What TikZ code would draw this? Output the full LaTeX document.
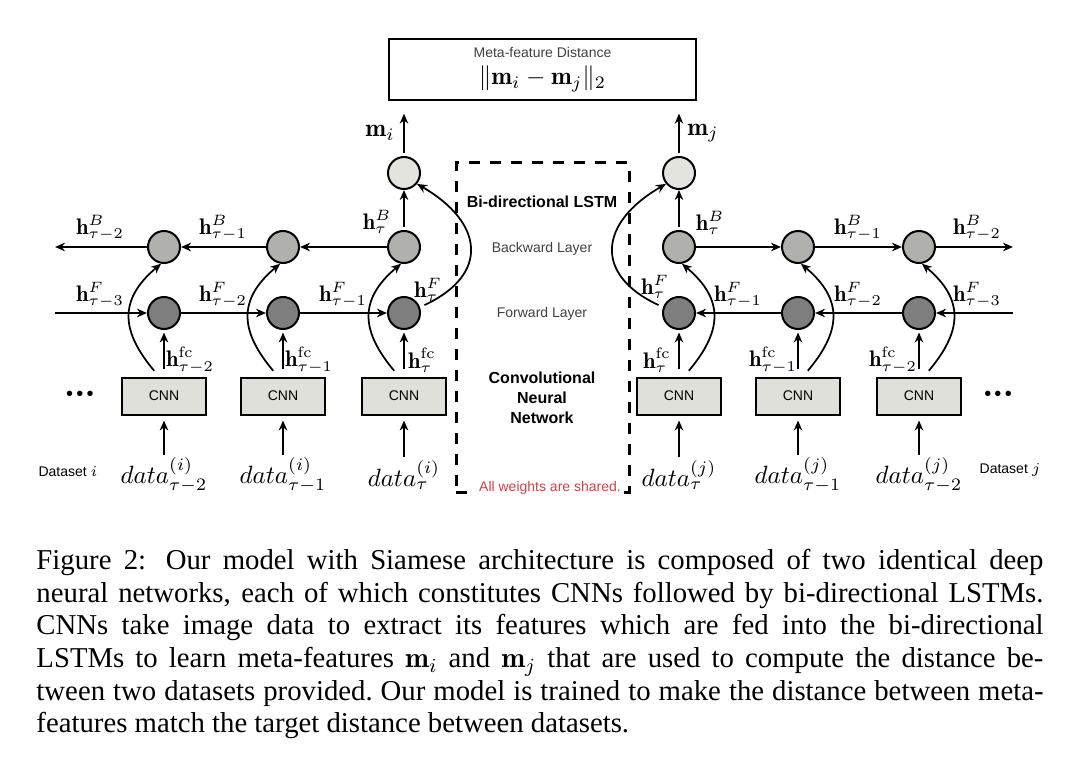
\documentclass[tikz,border=0pt]{standalone}
\usepackage{fontspec}
\setsansfont{Liberation Sans}
\newfontfamily\capfont{Liberation Serif}
\usetikzlibrary{arrows.meta}
\definecolor{outgray}{HTML}{E4E4DF}
\definecolor{bwdgray}{HTML}{B0B0AC}
\definecolor{fwdgray}{HTML}{7E7E7E}
\definecolor{cnngray}{HTML}{E0E0DA}
\definecolor{sharedred}{HTML}{D0434A}
\tikzset{
    outvertex/.style={circle,draw,line width=0.8pt,fill=outgray,minimum size=12.8pt,inner sep=0pt},
    bwvertex/.style={outvertex,fill=bwdgray},
    fwvertex/.style={outvertex,fill=fwdgray},
    cnnbox/.style={rectangle,draw,line width=0.8pt,fill=cnngray,minimum width=33.6pt,minimum height=14.8pt,inner sep=0pt,font=\sffamily\fontsize{5.6}{6}\selectfont},
    distbox/.style={rectangle,draw,line width=0.9pt,minimum width=122.8pt,minimum height=24.4pt,inner sep=0pt,align=center},
    sharedbox/.style={rectangle,draw,line width=1.2pt,dash pattern=on 4.4pt off 4pt,minimum width=69.2pt,minimum height=131.6pt,inner sep=0pt},
    hlabel/.style={inner sep=0pt,font=\fontsize{9}{10}\selectfont},
    datalabel/.style={inner sep=0pt,font=\fontsize{10}{11}\selectfont},
    smalltext/.style={inner sep=0pt,font=\sffamily\fontsize{5.6}{6}\selectfont},
    boldtext/.style={inner sep=0pt,align=center,font=\sffamily\bfseries\fontsize{6.4}{8}\selectfont},
    dotrow/.style={inner sep=0pt,font=\sffamily\fontsize{8}{8}\selectfont},
    pre/.style={-{Stealth[length=4pt,width=3.4pt]},line width=0.7pt},
    feed/.style={pre,shorten <=3pt,shorten >=1pt},
    input/.style={pre,shorten <=1pt,shorten >=2pt}
}

\begin{document}
\begin{tikzpicture}[x=0.4pt,y=0.4pt]
    \useasboundingbox (0,0) rectangle (1080,-779);

    % distance between the two meta-features
    \node[distbox] (dist) at (542.5,-69.5) {{\sffamily\fontsize{5.6}{6}\selectfont\color{darkgray}Meta-feature Distance}\\[-1pt]
        {\fontsize{10}{11}\selectfont$\|\mathbf{m}_i - \mathbf{m}_j\|_2$}};

    % shared part in the middle
    \node[sharedbox] (shared) at (542.5,-327.5) {};
    \node[boldtext] (lstm title) at (542,-202) {Bi-directional LSTM};
    \node[smalltext,text=darkgray] (bw layer) at (542,-249) {Backward Layer};
    \node[smalltext,text=darkgray] (fw layer) at (542,-314) {Forward Layer};
    \node[boldtext] (cnn title) at (542,-398) {Convolutional\\Neural\\Network};
    \node[smalltext,text=sharedred,fill=white,inner sep=1pt] (shared text) at (550,-488) {All weights are shared.};

    % left network (dataset i)
    \node[outvertex] (lhs out)  at (404,-173) {};
    \node[bwvertex]  (lhs bw 0) at (404,-247) {};
    \node[bwvertex]  (lhs bw 1) at (283,-247) {};
    \node[bwvertex]  (lhs bw 2) at (164,-247) {};
    \node[fwvertex]  (lhs fw 0) at (404,-313) {};
    \node[fwvertex]  (lhs fw 1) at (283,-313) {};
    \node[fwvertex]  (lhs fw 2) at (164,-313) {};
    \node[cnnbox]    (lhs cnn 0) at (404,-396) {CNN};
    \node[cnnbox]    (lhs cnn 1) at (283,-396) {CNN};
    \node[cnnbox]    (lhs cnn 2) at (164,-396) {CNN};
    \node[datalabel] (lhs data 0) at (404,-475) {$data^{(i)}_{\tau}$};
    \node[datalabel] (lhs data 1) at (283,-475) {$data^{(i)}_{\tau-1}$};
    \node[datalabel] (lhs data 2) at (164,-475) {$data^{(i)}_{\tau-2}$};
    \node[smalltext] (lhs set)  at (68,-472) {Dataset $i$};
    \node[dotrow]    (lhs dots) at (80,-396) {•\hspace{1.3pt}•\hspace{1.3pt}•};
    \coordinate (lhs bw end)   at (55,-247);
    \coordinate (lhs fw start) at (55,-313);

    \draw[pre] (lhs bw 0) -- (lhs bw 1);
    \draw[pre] (lhs bw 1) -- (lhs bw 2);
    \draw[pre] (lhs bw 2) -- (lhs bw end);
    \draw[pre] (lhs fw start) -- (lhs fw 2);
    \draw[pre] (lhs fw 2) -- (lhs fw 1);
    \draw[pre] (lhs fw 1) -- (lhs fw 0);
    \draw[pre,shorten <=1pt] (lhs bw 0) -- (lhs out);
    \draw[pre,shorten <=1pt,shorten >=5pt] (lhs out) -- (lhs out |- dist.south);
    \draw[feed] (lhs cnn 0) -- (lhs fw 0);
    \draw[feed] (lhs cnn 1) -- (lhs fw 1);
    \draw[feed] (lhs cnn 2) -- (lhs fw 2);
    \draw[input] (lhs data 0) -- (lhs cnn 0);
    \draw[input] (lhs data 1) -- (lhs cnn 1);
    \draw[input] (lhs data 2) -- (lhs cnn 2);
    \draw[pre,shorten <=3pt] ([xshift=-2pt]lhs cnn 0.north) to[out=130,in=-140,looseness=1.3] (lhs bw 0.-100);
    \draw[pre,shorten <=3pt] ([xshift=-2pt]lhs cnn 1.north) to[out=130,in=-140,looseness=1.3] (lhs bw 1.-100);
    \draw[pre,shorten <=3pt] ([xshift=-2pt]lhs cnn 2.north) to[out=130,in=-140,looseness=1.3] (lhs bw 2.-100);
    \draw[pre,shorten <=2pt] (lhs fw 0.20) to[out=25,in=-30,looseness=1.6] (lhs out.-40);

    \node[datalabel] (lhs m)    at (380,-133) {$\mathbf{m}_i$};
    \node[hlabel] (lhs hb 0)    at (377,-222) {$\mathbf{h}^B_{\tau}$};
    \node[hlabel] (lhs hb 1)    at (223,-228) {$\mathbf{h}^B_{\tau-1}$};
    \node[hlabel] (lhs hb 2)    at (100,-228) {$\mathbf{h}^B_{\tau-2}$};
    \node[hlabel] (lhs hf 0)    at (428,-290) {$\mathbf{h}^F_{\tau}$};
    \node[hlabel] (lhs hf 1)    at (343,-295) {$\mathbf{h}^F_{\tau-1}$};
    \node[hlabel] (lhs hf 2)    at (223,-295) {$\mathbf{h}^F_{\tau-2}$};
    \node[hlabel] (lhs hf 3)    at (100,-295) {$\mathbf{h}^F_{\tau-3}$};
    \node[hlabel] (lhs hfc 0)   at (422,-360) {$\mathbf{h}^{\mathrm{fc}}_{\tau}$};
    \node[hlabel] (lhs hfc 1)   at (309,-360) {$\mathbf{h}^{\mathrm{fc}}_{\tau-1}$};
    \node[hlabel] (lhs hfc 2)   at (190,-360) {$\mathbf{h}^{\mathrm{fc}}_{\tau-2}$};

    % right network (dataset j)
    \node[outvertex] (rhs out)  at (679,-173) {};
    \node[bwvertex]  (rhs bw 0) at (679,-247) {};
    \node[bwvertex]  (rhs bw 1) at (798,-247) {};
    \node[bwvertex]  (rhs bw 2) at (919,-247) {};
    \node[fwvertex]  (rhs fw 0) at (679,-313) {};
    \node[fwvertex]  (rhs fw 1) at (798,-313) {};
    \node[fwvertex]  (rhs fw 2) at (919,-313) {};
    \node[cnnbox]    (rhs cnn 0) at (679,-396) {CNN};
    \node[cnnbox]    (rhs cnn 1) at (798,-396) {CNN};
    \node[cnnbox]    (rhs cnn 2) at (919,-396) {CNN};
    \node[datalabel] (rhs data 0) at (679,-475) {$data^{(j)}_{\tau}$};
    \node[datalabel] (rhs data 1) at (798,-475) {$data^{(j)}_{\tau-1}$};
    \node[datalabel] (rhs data 2) at (919,-475) {$data^{(j)}_{\tau-2}$};
    \node[smalltext] (rhs set)  at (1010,-470) {Dataset $j$};
    \node[dotrow]    (rhs dots) at (998,-396) {•\hspace{1.3pt}•\hspace{1.3pt}•};
    \coordinate (rhs bw end)   at (1013,-247);
    \coordinate (rhs fw start) at (1013,-313);

    \draw[pre] (rhs bw 0) -- (rhs bw 1);
    \draw[pre] (rhs bw 1) -- (rhs bw 2);
    \draw[pre] (rhs bw 2) -- (rhs bw end);
    \draw[pre] (rhs fw start) -- (rhs fw 2);
    \draw[pre] (rhs fw 2) -- (rhs fw 1);
    \draw[pre] (rhs fw 1) -- (rhs fw 0);
    \draw[pre,shorten <=1pt] (rhs bw 0) -- (rhs out);
    \draw[pre,shorten <=1pt,shorten >=5pt] (rhs out) -- (rhs out |- dist.south);
    \draw[feed] (rhs cnn 0) -- (rhs fw 0);
    \draw[feed] (rhs cnn 1) -- (rhs fw 1);
    \draw[feed] (rhs cnn 2) -- (rhs fw 2);
    \draw[input] (rhs data 0) -- (rhs cnn 0);
    \draw[input] (rhs data 1) -- (rhs cnn 1);
    \draw[input] (rhs data 2) -- (rhs cnn 2);
    \draw[pre,shorten <=3pt] ([xshift=2pt]rhs cnn 0.north) to[out=50,in=-40,looseness=1.3] (rhs bw 0.-80);
    \draw[pre,shorten <=3pt] ([xshift=2pt]rhs cnn 1.north) to[out=50,in=-40,looseness=1.3] (rhs bw 1.-80);
    \draw[pre,shorten <=3pt] ([xshift=2pt]rhs cnn 2.north) to[out=50,in=-40,looseness=1.3] (rhs bw 2.-80);
    \draw[pre,shorten <=2pt] (rhs fw 0.160) to[out=155,in=-150,looseness=1.6] (rhs out.-140);

    \node[datalabel] (rhs m)    at (703,-133) {$\mathbf{m}_j$};
    \node[hlabel] (rhs hb 0)    at (710,-223) {$\mathbf{h}^B_{\tau}$};
    \node[hlabel] (rhs hb 1)    at (858,-228) {$\mathbf{h}^B_{\tau-1}$};
    \node[hlabel] (rhs hb 2)    at (977,-228) {$\mathbf{h}^B_{\tau-2}$};
    \node[hlabel] (rhs hf 0)    at (655,-287) {$\mathbf{h}^F_{\tau}$};
    \node[hlabel] (rhs hf 1)    at (738,-295) {$\mathbf{h}^F_{\tau-1}$};
    \node[hlabel] (rhs hf 2)    at (858,-295) {$\mathbf{h}^F_{\tau-2}$};
    \node[hlabel] (rhs hf 3)    at (977,-295) {$\mathbf{h}^F_{\tau-3}$};
    \node[hlabel] (rhs hfc 0)   at (657,-360) {$\mathbf{h}^{\mathrm{fc}}_{\tau}$};
    \node[hlabel] (rhs hfc 1)   at (773,-360) {$\mathbf{h}^{\mathrm{fc}}_{\tau-1}$};
    \node[hlabel] (rhs hfc 2)   at (893,-360) {$\mathbf{h}^{\mathrm{fc}}_{\tau-2}$};

    % caption
    \node[anchor=north west,inner sep=0pt,text width=402.8pt,align=justify,font=\capfont\fontsize{11.5}{13.04}\selectfont] (caption) at (36,-549)
        {Figure 2: Our model with Siamese architecture is composed of two identical deep\linebreak
        neural networks, each of which constitutes CNNs followed by bi-directional LSTMs.\linebreak
        CNNs take image data to extract its features which are fed into the bi-directional\linebreak
        LSTMs to learn meta-features $\mathbf{m}_i$ and $\mathbf{m}_j$ that are used to compute the distance be-\linebreak
        tween two datasets provided.\ Our model is trained to make the distance between meta-\linebreak
        features match the target distance between datasets.};
\end{tikzpicture}
\end{document}
